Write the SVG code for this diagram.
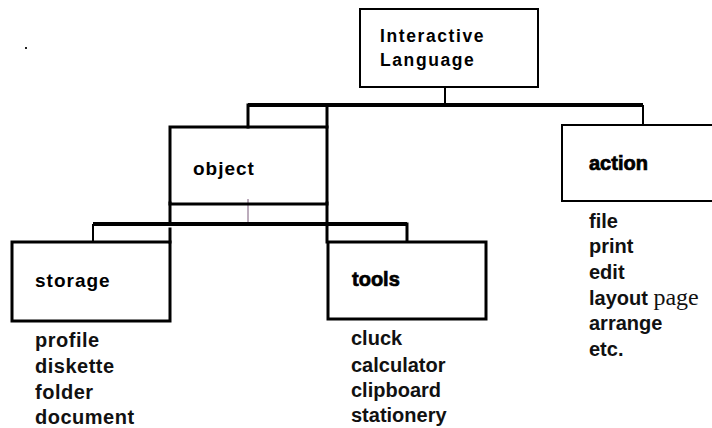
<svg xmlns="http://www.w3.org/2000/svg" width="712" height="428" viewBox="0 0 712 428">
<style>
.box{fill:none;stroke:#000;stroke-width:3}
.thin{fill:none;stroke:#000;stroke-width:2}
.ln{fill:none;stroke:#000;stroke-width:3;stroke-linecap:square}
.bar{fill:none;stroke:#000;stroke-width:4}
.t{font-family:"Liberation Sans",Arial,sans-serif;font-weight:bold;fill:#000}
.item{font-family:"Liberation Sans",Arial,sans-serif;font-weight:bold;font-size:20px;fill:#111}
.heavy{stroke:#000;stroke-width:0.7}
</style>
<rect width="712" height="428" fill="#fff"/>
<rect x="25" y="47" width="2" height="2" fill="#222"/>
<g id="connectors">
<line class="thin" x1="445" y1="87" x2="445" y2="105"/>
<line class="bar" x1="248" y1="105" x2="643" y2="105"/>
<line class="ln" x1="248" y1="105" x2="248" y2="127"/>
<line class="ln" x1="327" y1="105" x2="327" y2="127"/>
<line class="thin" x1="643" y1="105" x2="643" y2="125"/>
<line class="ln" x1="170" y1="203" x2="170" y2="222"/>
<line x1="248" y1="199" x2="248" y2="222" stroke="#7a5a7a" stroke-width="1"/>
<line class="bar" x1="93" y1="224" x2="407" y2="224"/>
<line class="thin" x1="93" y1="224" x2="93" y2="242"/>
<line class="ln" x1="170" y1="229" x2="170" y2="242"/>
<line class="ln" x1="407" y1="224" x2="407" y2="241"/>
<line class="ln" x1="327" y1="203" x2="327" y2="242"/>
</g>
<g id="interactive-language">
<rect class="thin" x="360" y="9" width="178" height="78"/>
<text class="t" x="380" y="42" font-size="17.5" letter-spacing="1.6">Interactive</text>
<text class="t" x="380" y="66" font-size="17.5" letter-spacing="1.6">Language</text>
</g>
<g id="object">
<rect class="box" x="170" y="127" width="157" height="77"/>
<text class="t" x="193" y="175" font-size="19" letter-spacing="1">object</text>
</g>
<g id="action">
<path class="thin" d="M714 125 H562 V201 H714"/>
<text class="t heavy" x="589" y="170" font-size="20">action</text>
<text class="item" x="589" y="228">file</text>
<text class="item" x="589" y="253">print</text>
<text class="item" x="589" y="279">edit</text>
<text class="item" x="589" y="305">layout <tspan font-family="'Liberation Serif','Times New Roman',serif" font-weight="normal" font-size="24">page</tspan></text>
<text class="item" x="589" y="330">arrange</text>
<text class="item" x="589" y="356">etc.</text>
</g>
<g id="storage">
<rect class="box" x="12" y="242" width="158" height="79"/>
<text class="t" x="35" y="287" font-size="19" letter-spacing="1">storage</text>
<text class="item" x="35" y="347" letter-spacing="0.5">profile</text>
<text class="item" x="35" y="373" letter-spacing="0.5">diskette</text>
<text class="item" x="35" y="399" letter-spacing="0.5">folder</text>
<text class="item" x="35" y="424" letter-spacing="0.5">document</text>
</g>
<g id="tools">
<rect class="box" x="328" y="242" width="158" height="77"/>
<text class="t heavy" x="352" y="286" font-size="20">tools</text>
<text class="item" x="351" y="345">cluck</text>
<text class="item" x="351" y="372">calculator</text>
<text class="item" x="351" y="397">clipboard</text>
<text class="item" x="351" y="422">stationery</text>
</g>
</svg>
